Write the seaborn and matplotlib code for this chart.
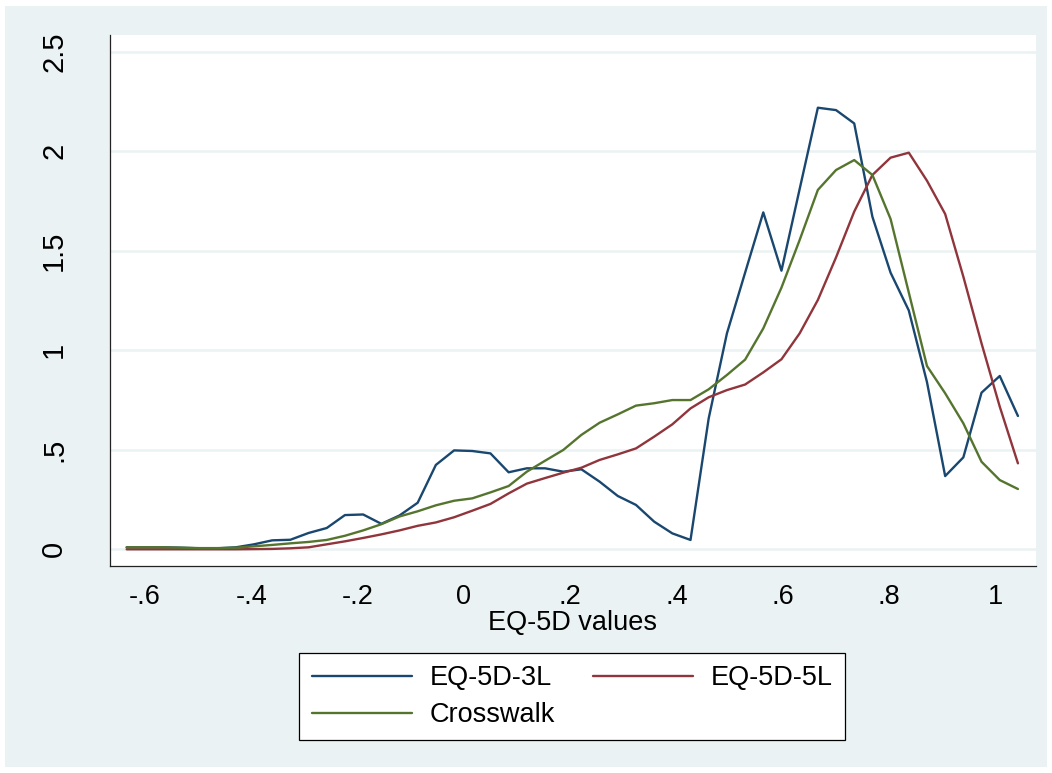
import numpy as np
import pandas as pd
import matplotlib
matplotlib.use("Agg")
import matplotlib.pyplot as plt
from matplotlib.patches import Rectangle
from matplotlib.lines import Line2D
import seaborn as sns

# ---- data (kernel density estimates) ----
x_vals = [-0.6346, -0.6004, -0.5662, -0.5319, -0.4977, -0.4635, -0.4293, -0.3951, -0.3608, -0.3266,
          -0.2924, -0.2582, -0.2240, -0.1897, -0.1555, -0.1213, -0.0871, -0.0529, -0.0186, 0.0156,
          0.0498, 0.0840, 0.1182, 0.1525, 0.1867, 0.2209, 0.2551, 0.2893, 0.3236, 0.3578,
          0.3920, 0.4262, 0.4604, 0.4947, 0.5289, 0.5631, 0.5973, 0.6315, 0.6658, 0.7000,
          0.7342, 0.7684, 0.8026, 0.8369, 0.8711, 0.9053, 0.9395, 0.9737, 1.0080, 1.0422]

eq3l = [0.010, 0.010, 0.010, 0.008, 0.005, 0.005, 0.010, 0.025, 0.045, 0.048,
        0.082, 0.107, 0.172, 0.175, 0.128, 0.170, 0.234, 0.424, 0.497, 0.494,
        0.482, 0.387, 0.407, 0.407, 0.390, 0.402, 0.340, 0.268, 0.223, 0.139,
        0.080, 0.047, 0.658, 1.085, 1.390, 1.693, 1.400, 1.810, 2.219, 2.207,
        2.140, 1.671, 1.390, 1.200, 0.840, 0.368, 0.462, 0.787, 0.871, 0.670]

eq5l = [0.000, 0.000, 0.000, 0.000, 0.000, 0.000, 0.000, 0.001, 0.002, 0.005,
        0.010, 0.025, 0.040, 0.057, 0.075, 0.095, 0.118, 0.135, 0.161, 0.194,
        0.228, 0.281, 0.330, 0.358, 0.385, 0.410, 0.449, 0.477, 0.507, 0.566,
        0.628, 0.708, 0.764, 0.800, 0.828, 0.889, 0.955, 1.085, 1.253, 1.467,
        1.697, 1.881, 1.968, 1.993, 1.852, 1.685, 1.370, 1.035, 0.717, 0.432]

crosswalk = [0.010, 0.010, 0.010, 0.008, 0.006, 0.006, 0.008, 0.015, 0.022, 0.030,
             0.037, 0.047, 0.068, 0.095, 0.126, 0.165, 0.191, 0.221, 0.244, 0.256,
             0.286, 0.318, 0.390, 0.445, 0.499, 0.575, 0.636, 0.678, 0.722, 0.734,
             0.750, 0.750, 0.804, 0.876, 0.953, 1.110, 1.315, 1.554, 1.806, 1.906,
             1.956, 1.881, 1.660, 1.290, 0.921, 0.784, 0.633, 0.440, 0.348, 0.303]

series_names = ["EQ-5D-3L", "EQ-5D-5L", "Crosswalk"]
series_colors = ["#1a476f", "#90353b", "#55752f"]

x_ticks = [-0.6, -0.4, -0.2, 0.0, 0.2, 0.4, 0.6, 0.8, 1.0]
x_ticklabels = ["-.6", "-.4", "-.2", "0", ".2", ".4", ".6", ".8", "1"]
y_ticks = [0, 0.5, 1, 1.5, 2, 2.5]
y_ticklabels = ["0", ".5", "1", "1.5", "2", "2.5"]

df = pd.DataFrame({
    "x": np.tile(x_vals, 3),
    "density": np.concatenate([eq3l, eq5l, crosswalk]),
    "series": np.repeat(series_names, len(x_vals)),
})

# ---- style ----
sns.set_style("white")
plt.rcParams["font.family"] = ["Liberation Sans", "DejaVu Sans"]

W, H = 1052, 773
fig = plt.figure(figsize=(W / 100, H / 100), dpi=100, facecolor="white")
fig.patches.append(Rectangle((5 / W, 6 / H), (W - 10) / W, (H - 12) / H,
                             transform=fig.transFigure, facecolor="#EAF2F3",
                             edgecolor="none", zorder=-10))

ax = fig.add_axes([110 / W, (H - 566) / H, (1036 - 110) / W, (566 - 35) / H])
ax.set_facecolor("white")

palette = dict(zip(series_names, series_colors))
sns.lineplot(data=df, x="x", y="density", hue="series", palette=palette,
             linewidth=1.7, estimator=None, sort=False, legend=False, ax=ax)

ax.set_xlim(-0.666, 1.0762)
ax.set_ylim(-0.0839, 2.5844)

ax.set_xticks(x_ticks)
ax.set_xticklabels(x_ticklabels)
ax.set_yticks(y_ticks)
ax.set_yticklabels(y_ticklabels, rotation=90, va="center")

ax.set_axisbelow(True)
ax.yaxis.grid(True, color="#EAF2F3", linewidth=1.8)
ax.xaxis.grid(False)

for s in ["top", "right"]:
    ax.spines[s].set_visible(False)
for s in ["left", "bottom"]:
    ax.spines[s].set_color("#222222")
    ax.spines[s].set_linewidth(0.9)

ax.tick_params(axis="both", direction="out", length=7.2, width=0.9,
               color="#222222", labelcolor="black")
ax.tick_params(axis="x", pad=6, labelsize=19.5)
ax.tick_params(axis="y", pad=23, labelsize=21)

ax.set_xlabel("EQ-5D values", fontsize=19.5, labelpad=0, color="black")
ax.set_ylabel("")

order = [0, 2, 1]
handles = [Line2D([], [], color=series_colors[i], linewidth=1.7) for i in order]
labels = [series_names[i] for i in order]
leg = fig.legend(handles, labels, ncol=2, loc="upper center",
                 bbox_to_anchor=(572 / W, 1 - 653 / H), frameon=True,
                 fancybox=False, edgecolor="black", facecolor="white",
                 framealpha=1, fontsize=19.5, handlelength=3.7,
                 handletextpad=0.65, columnspacing=1.4, borderpad=0.45,
                 labelspacing=0.4, borderaxespad=0)
for t in leg.get_texts():
    t.set_color("black")
leg.get_frame().set_linewidth(0.9)

fig.savefig("out.png", dpi=100, facecolor="white")
